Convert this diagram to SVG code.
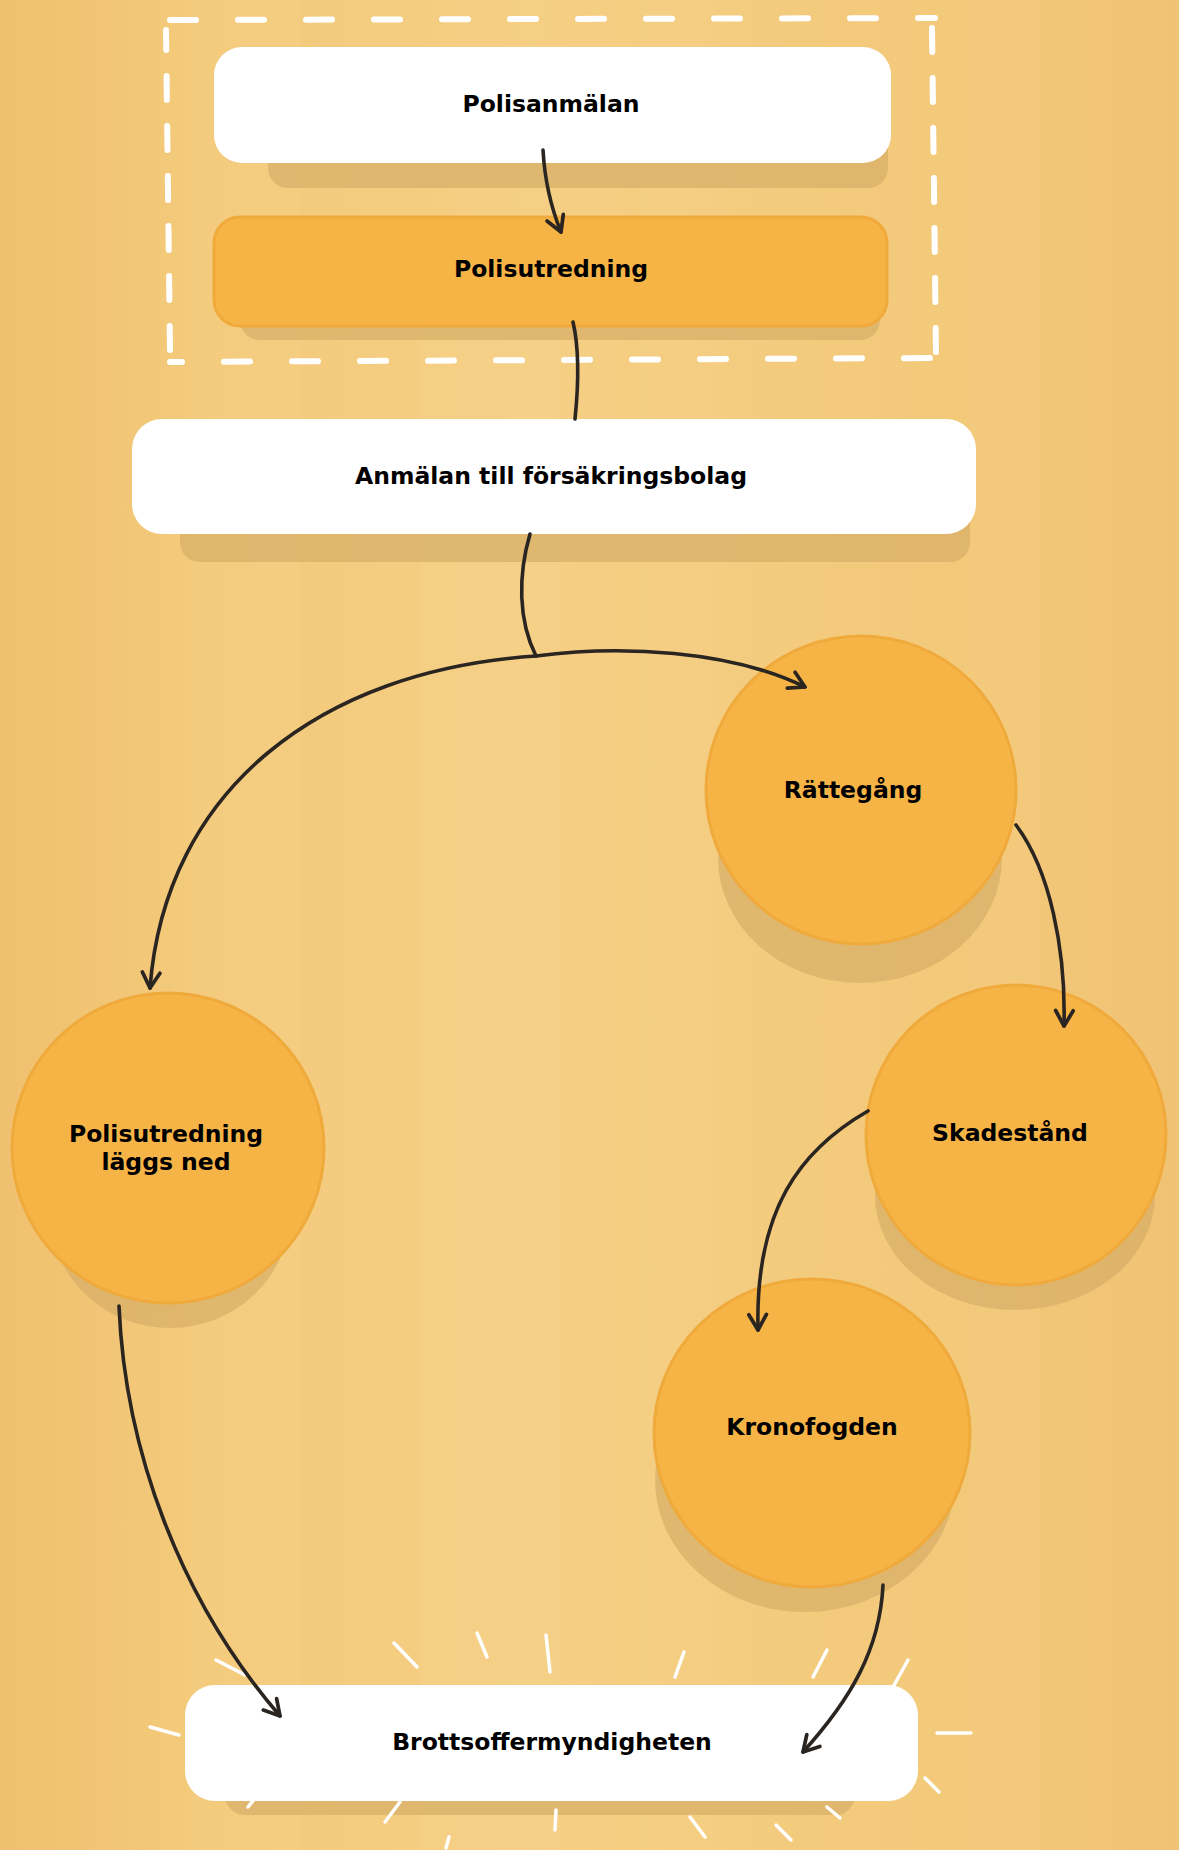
<svg xmlns="http://www.w3.org/2000/svg" width="1179" height="1850" viewBox="0 0 1179 1850">
<style>
.lbl{font-family:"DejaVu Sans","Verdana",sans-serif;font-weight:bold;font-size:23.5px;fill:#000;text-anchor:middle}
.white{fill:#ffffff}
.orange{fill:#f6b447;stroke:#f0aa3c;stroke-width:3}
.shadow{fill:#d6ae66;opacity:0.7}
.conn{fill:none;stroke:#2a2520;stroke-width:3.6;stroke-linecap:round}
.dash{fill:none;stroke:#ffffff;stroke-width:6;stroke-linecap:round}
.ray{stroke:#ffffff;stroke-width:3.5;stroke-linecap:round}
</style>
<defs>
<marker id="arr" viewBox="0 0 20 20" refX="17" refY="10" markerWidth="22" markerHeight="22" markerUnits="userSpaceOnUse" orient="auto">
<path d="M3,2 L17,10 L3,18" fill="none" stroke="#2a2520" stroke-width="3.4" stroke-linecap="round" stroke-linejoin="round"/>
</marker>
<linearGradient id="bg" x1="0" y1="0" x2="1" y2="0">
<stop offset="0" stop-color="#efc06f"/>
<stop offset="0.15" stop-color="#f3c97a"/>
<stop offset="0.45" stop-color="#f5cf84"/>
<stop offset="0.8" stop-color="#f3c97a"/>
<stop offset="1" stop-color="#f0c274"/>
</linearGradient>
</defs>
<!-- background -->
<rect x="0" y="0" width="1179" height="1850" fill="url(#bg)"/>
<rect x="190" y="0" width="110" height="1850" fill="#f8d690" opacity="0.18"/>
<rect x="420" y="300" width="140" height="1550" fill="#f8d690" opacity="0.22"/>
<rect x="640" y="0" width="90" height="1850" fill="#f8d690" opacity="0.15"/>
<rect x="970" y="0" width="70" height="1850" fill="#f8d690" opacity="0.15"/>

<!-- dashed frame -->
<g id="frame">
<path class="dash" d="M170,20 L935,18" stroke-dasharray="26 42"/>
<path class="dash" d="M932,28 L936,355" stroke-dasharray="24 26"/>
<path class="dash" d="M930,358 L170,362" stroke-dasharray="26 42"/>
<path class="dash" d="M170,350 L166,30" stroke-dasharray="24 26"/>
</g>

<!-- node: Polisanmälan -->
<g id="n-polisanmalan">
<rect class="shadow" x="268" y="80" width="620" height="108" rx="20"/>
<rect class="white" x="214" y="47" width="677" height="116" rx="28"/>
<text class="lbl" x="551" y="112">Polisanmälan</text>
</g>

<!-- node: Polisutredning -->
<g id="n-polisutredning">
<rect class="shadow" x="240" y="250" width="640" height="90" rx="20"/>
<rect class="orange" x="214" y="217" width="673" height="109" rx="26"/>
<text class="lbl" x="551" y="277">Polisutredning</text>
</g>

<!-- node: Anmälan till försäkringsbolag -->
<g id="n-anmalan">
<rect class="shadow" x="180" y="460" width="790" height="102" rx="20"/>
<rect class="white" x="132" y="419" width="844" height="115" rx="30"/>
<text class="lbl" x="551" y="484">Anmälan till försäkringsbolag</text>
</g>

<!-- node: Rättegång -->
<g id="n-rattegang">
<ellipse class="shadow" cx="860" cy="858" rx="142" ry="125"/>
<ellipse class="orange" cx="861" cy="790" rx="155" ry="154"/>
<text class="lbl" x="853" y="798">Rättegång</text>
</g>

<!-- node: Skadestånd -->
<g id="n-skadestand">
<ellipse class="shadow" cx="1015" cy="1195" rx="140" ry="115"/>
<ellipse class="orange" cx="1016" cy="1135" rx="150" ry="150"/>
<text class="lbl" x="1010" y="1141">Skadestånd</text>
</g>

<!-- node: Polisutredning läggs ned -->
<g id="n-laggs-ned">
<ellipse class="shadow" cx="170" cy="1212" rx="120" ry="116"/>
<ellipse class="orange" cx="168" cy="1148" rx="156" ry="155"/>
<text class="lbl" x="166" y="1142">Polisutredning</text>
<text class="lbl" x="166" y="1170">läggs ned</text>
</g>

<!-- node: Kronofogden -->
<g id="n-kronofogden">
<ellipse class="shadow" cx="805" cy="1480" rx="150" ry="132"/>
<ellipse class="orange" cx="812" cy="1433" rx="158" ry="154"/>
<text class="lbl" x="812" y="1435">Kronofogden</text>
</g>

<!-- node: Brottsoffermyndigheten -->
<g id="n-brottsoffer">
<rect class="shadow" x="225" y="1720" width="630" height="95" rx="20"/>
<g id="rays">
<line class="ray" x1="216" y1="1660" x2="245" y2="1675"/>
<line class="ray" x1="394" y1="1643" x2="417" y2="1667"/>
<line class="ray" x1="477" y1="1633" x2="487" y2="1657"/>
<line class="ray" x1="546" y1="1635" x2="550" y2="1672"/>
<line class="ray" x1="684" y1="1652" x2="675" y2="1677"/>
<line class="ray" x1="827" y1="1650" x2="813" y2="1677"/>
<line class="ray" x1="908" y1="1660" x2="893" y2="1687"/>
<line class="ray" x1="150" y1="1727" x2="179" y2="1735"/>
<line class="ray" x1="937" y1="1733" x2="971" y2="1733"/>
<line class="ray" x1="925" y1="1778" x2="939" y2="1792"/>
<line class="ray" x1="259" y1="1793" x2="248" y2="1807"/>
<line class="ray" x1="400" y1="1802" x2="385" y2="1822"/>
<line class="ray" x1="556" y1="1810" x2="555" y2="1830"/>
<line class="ray" x1="690" y1="1817" x2="705" y2="1837"/>
<line class="ray" x1="827" y1="1807" x2="840" y2="1818"/>
<line class="ray" x1="776" y1="1825" x2="791" y2="1840"/>
<line class="ray" x1="449" y1="1837" x2="446" y2="1848"/>
</g>
<rect class="white" x="185" y="1685" width="733" height="116" rx="30"/>
<text class="lbl" x="552" y="1750">Brottsoffermyndigheten</text>
</g>

<!-- connectors -->
<g id="connectors">
<path class="conn" d="M543,150 C 545,185 552,210 561,232" marker-end="url(#arr)"/>
<path class="conn" d="M573,322 C 580,352 578,390 575,419"/>
<path class="conn" d="M530,534 C 518,575 518,620 536,656"/>
<path class="conn" d="M536,656 C 620,645 730,650 805,687" marker-end="url(#arr)"/>
<path class="conn" d="M536,656 C 320,670 165,790 150,988" marker-end="url(#arr)"/>
<path class="conn" d="M1016,825 C 1050,870 1066,950 1064,1026" marker-end="url(#arr)"/>
<path class="conn" d="M868,1111 C 800,1150 755,1210 758,1330" marker-end="url(#arr)"/>
<path class="conn" d="M119,1306 C 125,1450 180,1600 280,1716" marker-end="url(#arr)"/>
<path class="conn" d="M883,1585 C 880,1650 850,1700 803,1752" marker-end="url(#arr)"/>
</g>
</svg>
